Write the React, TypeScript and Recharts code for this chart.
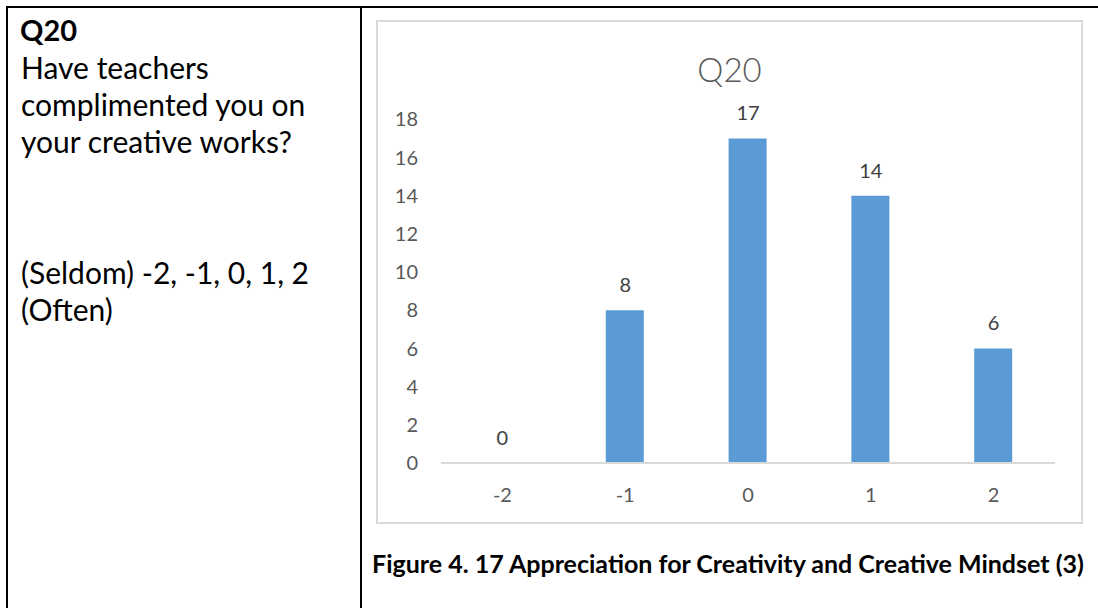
import React from "react";
import { ComposedChart, Bar, Line as RLine, XAxis, YAxis, LabelList } from "recharts";

const categories = ["-2", "-1", "0", "1", "2"];
const counts = [0, 8, 17, 14, 6];
const yTicks = [0, 2, 4, 6, 8, 10, 12, 14, 16, 18];
const chartTitle = "Q20";
const questionLines = ["Have teachers", "complimented you on", "your creative works?"];
const scaleLines = ["(Seldom) -2, -1, 0, 1, 2", "(Often)"];
const caption = "Figure 4. 17 Appreciation for Creativity and Creative Mindset (3)";

const data = categories.map((c, i) => ({ cat: c, value: counts[i] }));

const FONT = "Lato, 'Open Sans', sans-serif";

function TextLine({ text, top, left, size, bold }: { text: string; top: number; left: number; size: number; bold?: boolean }) {
  return (
    <div
      style={{
        position: "absolute",
        left,
        top: top - 20,
        height: 40,
        lineHeight: "40px",
        fontSize: size,
        fontWeight: bold ? 700 : 400,
        fontFamily: FONT,
        color: "#000",
        whiteSpace: "nowrap",
      }}
    >
      {text}
    </div>
  );
}

export default function App() {
  const lineYs = [67, 104, 141];
  const scaleYs = [272, 309];
  return (
    <div style={{ position: "relative", width: 1098, height: 608, background: "#fff", overflow: "hidden" }}>
      <style>{`body{margin:0}`}</style>
      {/* table borders */}
      <div style={{ position: "absolute", left: 6, top: 6, width: 1092, height: 2, background: "#000" }} />
      <div style={{ position: "absolute", left: 6, top: 6, width: 2, height: 602, background: "#000" }} />
      <div style={{ position: "absolute", left: 360, top: 6, width: 2, height: 602, background: "#000" }} />

      {/* left cell text */}
      <TextLine text="Q20" top={30} left={20} size={29} bold />
      {questionLines.map((t, i) => (
        <TextLine key={t} text={t} top={lineYs[i]} left={21} size={30} />
      ))}
      {scaleLines.map((t, i) => (
        <TextLine key={t} text={t} top={scaleYs[i]} left={21} size={30} />
      ))}

      {/* chart frame */}
      <div
        style={{
          position: "absolute",
          left: 376,
          top: 20,
          width: 707,
          height: 504,
          boxSizing: "border-box",
          border: "2px solid #d9d9d9",
        }}
      />
      <div
        style={{
          position: "absolute",
          left: 376,
          top: 69 - 25,
          width: 707,
          height: 50,
          lineHeight: "50px",
          textAlign: "center",
          fontFamily: FONT,
          fontWeight: 300,
          fontSize: 33,
          color: "#595959",
        }}
      >
        {chartTitle}
      </div>
      <div style={{ position: "absolute", left: 376, top: 20 }}>
        <ComposedChart
          width={707}
          height={504}
          data={data}
          margin={{ top: 99.3, right: 28, bottom: 31, left: 0 }}
          barSize={38}
        >
          <XAxis
            dataKey="cat"
            height={30}
            tickLine={false}
            axisLine={{ stroke: "#d9d9d9", strokeWidth: 2 }}
            tickMargin={19}
            tick={{ fill: "#595959", fontSize: 20, fontFamily: FONT }}
          />
          <YAxis
            width={65}
            domain={[0, 18]}
            ticks={yTicks}
            interval={0}
            axisLine={false}
            tickLine={false}
            tickMargin={17}
            tick={{ fill: "#595959", fontSize: 20, fontFamily: FONT }}
          />
          <Bar dataKey="value" fill="#5b9bd5" isAnimationActive={false} />
          <RLine
            dataKey="value"
            stroke="none"
            dot={false}
            activeDot={false}
            legendType="none"
            isAnimationActive={false}
          >
            <LabelList
              dataKey="value"
              position="top"
              offset={18}
              fill="#404040"
              fontSize={20}
              fontFamily={FONT}
            />
          </RLine>
        </ComposedChart>
      </div>

      {/* caption */}
      <TextLine text={caption} top={563} left={372} size={25} bold />
    </div>
  );
}
